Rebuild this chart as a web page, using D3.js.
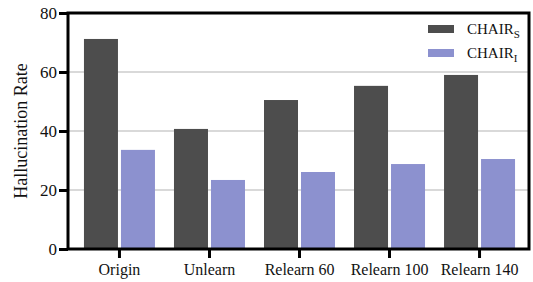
<!DOCTYPE html>
<html><head><meta charset="utf-8">
<script src="https://cdn.jsdelivr.net/npm/d3@7"></script>
<style>body{margin:0;background:#fff}svg{display:block}</style>
</head><body>
<svg id="c" width="533" height="282"></svg>
<script>
const categories = ["Origin","Unlearn","Relearn 60","Relearn 100","Relearn 140"];
const chairS = [71.2, 40.7, 50.5, 55.3, 59.0];
const chairI = [33.6, 23.4, 26.1, 28.8, 30.5];
const seriesNames = ["S","I"];
const yTicks = [0,20,40,60,80];

const svg = d3.select("#c");
const L=68, R=529, T=13, B=249;
const font = '"Liberation Serif"';
const colors = {S:"#4d4d4d", I:"#8c91cf"};

const x = d3.scaleBand().domain(categories).range([69.5,529.5]).paddingInner(0).paddingOuter(0.055);
const xi = d3.scaleBand().domain(seriesNames).range([-35.5,35.5]).paddingInner(0.081);
const y = d3.scaleLinear().domain([0,80]).range([B,T]);

// gridlines
svg.append("g").selectAll("line").data(yTicks.filter(d=>d>0&&d<80)).join("line")
  .attr("x1",L).attr("x2",R).attr("y1",d=>y(d)).attr("y2",d=>y(d))
  .attr("stroke","#d9d9d9").attr("stroke-width",2);

const data = categories.map((c,i)=>({c, S:chairS[i], I:chairI[i]}));
const g = svg.append("g");
data.forEach(d=>{
  seriesNames.forEach(s=>{
    g.append("rect")
     .attr("x", x(d.c)+x.bandwidth()/2+xi(s))
     .attr("width", xi.bandwidth())
     .attr("y", y(d[s]))
     .attr("height", y(0)-y(d[s]))
     .attr("fill", colors[s]);
  });
});

// frame
svg.append("rect").attr("x",L).attr("y",T).attr("width",R-L).attr("height",B-T)
  .attr("fill","none").attr("stroke","#000").attr("stroke-width",3);

// y axis (tick marks)
const ya = svg.append("g").attr("transform",`translate(${L},0)`)
  .call(d3.axisLeft(y).tickValues(yTicks).tickSize(9).tickFormat(""));
ya.select(".domain").remove();
ya.selectAll(".tick line").attr("stroke","#000").attr("stroke-width",3);
ya.selectAll(".tick text").remove();
// y tick labels
svg.append("g").selectAll("text").data(yTicks).join("text")
  .attr("x", L-11).attr("y", d=>y(d)).attr("dy","0.34em")
  .attr("text-anchor","end").attr("font-family",font).attr("font-size",17).attr("fill","#111")
  .text(d=>d);

// x axis (tick marks)
const xa = svg.append("g").attr("transform",`translate(0,${B})`)
  .call(d3.axisBottom(x).tickSize(9).tickFormat(""));
xa.select(".domain").remove();
xa.selectAll(".tick line").attr("stroke","#000").attr("stroke-width",3);
xa.selectAll(".tick text").remove();
// x tick labels
svg.append("g").selectAll("text").data(categories).join("text")
  .attr("x", d=>x(d)+x.bandwidth()/2).attr("y", B+26)
  .attr("text-anchor","middle").attr("font-family",font).attr("font-size",16).attr("fill","#111")
  .text(d=>d);

// y label
svg.append("text").attr("transform",`translate(27,${(T+B)/2}) rotate(-90)`)
  .attr("text-anchor","middle").attr("font-family",font).attr("font-size",18).attr("fill","#111")
  .text("Hallucination Rate");

// legend
const leg = svg.append("g");
seriesNames.forEach((s,i)=>{
  const yy = 25 + i*24;
  leg.append("rect").attr("x",428).attr("y",yy).attr("width",26).attr("height",8).attr("fill",colors[s]);
  const t = leg.append("text").attr("x",467).attr("y",yy+9).attr("font-family",font).attr("font-size",15).attr("fill","#111");
  t.append("tspan").text("CHAIR");
  t.append("tspan").attr("font-size",11).attr("dy",3.5).text(s);
});
</script>
</body></html>
